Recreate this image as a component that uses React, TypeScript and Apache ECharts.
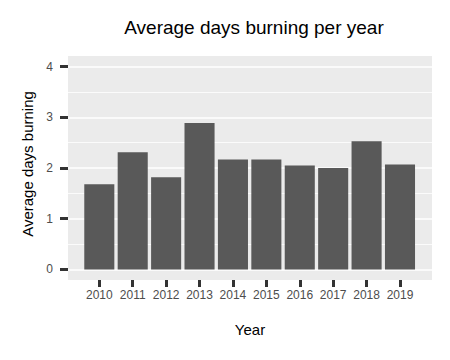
import React, { useEffect, useRef } from "react";
import * as echarts from "echarts";

const years = ["2010", "2011", "2012", "2013", "2014", "2015", "2016", "2017", "2018", "2019"];
const avgDays = [1.68, 2.31, 1.82, 2.89, 2.17, 2.17, 2.05, 2.0, 2.53, 2.07];
const yTicks = [0, 1, 2, 3, 4];

const FONT = "'Liberation Sans', Arial, sans-serif";

export default function App() {
  const ref = useRef<HTMLDivElement>(null);
  useEffect(() => {
    if (!ref.current) return;
    const chart = echarts.init(ref.current, null, { renderer: "svg" });
    const top = 66.6;
    const zeroY = 269.4;
    const panelBottom = 280;
    const unit = (zeroY - top) / 4;
    chart.setOption({
      animation: false,
      backgroundColor: "#ffffff",
      textStyle: { fontFamily: FONT },
      title: {
        text: "Average days burning per year",
        left: 249,
        textAlign: "center",
        top: 13,
        textStyle: { fontFamily: FONT, fontSize: 19, fontWeight: "normal", color: "#000000" },
      },
      graphic: [
        {
          type: "rect",
          z: -10,
          shape: { x: 68, y: 56, width: 364, height: 224 },
          style: { fill: "#ebebeb" },
          silent: true,
        },
        {
          type: "text",
          x: 27,
          y: 164,
          rotation: Math.PI / 2,
          style: {
            text: "Average days burning",
            fontFamily: FONT,
            fontSize: 15,
            fill: "#000000",
            align: "center",
            verticalAlign: "middle",
          },
        },
        {
          type: "text",
          x: 250,
          y: 329,
          style: {
            text: "Year",
            fontFamily: FONT,
            fontSize: 15,
            fill: "#000000",
            align: "center",
            verticalAlign: "middle",
          },
        },
      ],
      grid: [
        { left: 68, right: 18, top, bottom: 360 - zeroY },
        { left: 82.6, right: 33.3, top, bottom: 360 - panelBottom },
      ],
      xAxis: [
        { type: "value", gridIndex: 0, show: false, min: 0, max: 1 },
        {
          type: "category",
          gridIndex: 1,
          data: years,
          boundaryGap: true,
          position: "bottom",
          axisLine: { show: false, onZero: false },
          axisTick: {
            show: true,
            interval: 0,
            alignWithLabel: true,
            length: 7,
            lineStyle: { color: "#333333", width: 3 },
          },
          axisLabel: { interval: 0, margin: 9, fontSize: 12, color: "#4d4d4d", fontFamily: FONT },
        },
      ],
      yAxis: [
        {
          type: "value",
          gridIndex: 0,
          min: 0,
          max: 4,
          interval: 1,
          axisLine: { show: false },
          axisTick: { show: true, length: 8, lineStyle: { color: "#333333", width: 3 } },
          axisLabel: {
            margin: 15,
            fontSize: 12,
            color: "#4d4d4d",
            fontFamily: FONT,
            formatter: (v: number) => (yTicks.includes(v) ? String(v) : ""),
          },
          splitLine: { show: true, lineStyle: { color: "#ffffff", width: 1.6 } },
          minorTick: { show: false, splitNumber: 2 },
          minorSplitLine: { show: true, lineStyle: { color: "#ffffff", width: 0.8 } },
        },
        {
          type: "value",
          gridIndex: 1,
          min: -(panelBottom - zeroY) / unit,
          max: 4,
          show: false,
          splitLine: { show: false },
        },
      ],
      series: [
        {
          type: "bar",
          xAxisIndex: 1,
          yAxisIndex: 1,
          data: avgDays,
          barCategoryGap: "10%",
          itemStyle: { color: "#595959" },
        },
      ],
    });
    return () => chart.dispose();
  }, []);
  return <div ref={ref} style={{ width: 450, height: 360, position: "absolute", left: 0, top: 0 }} />;
}
